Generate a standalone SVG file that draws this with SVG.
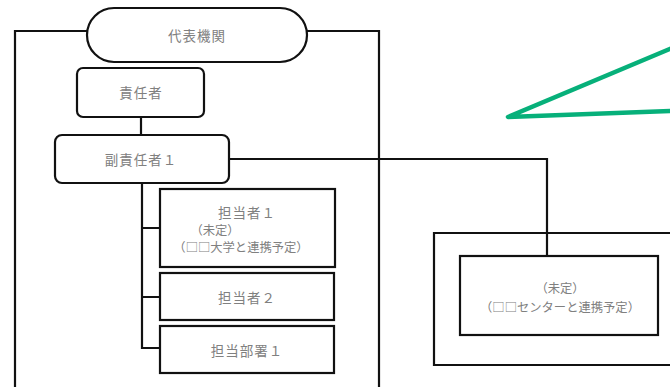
<svg xmlns="http://www.w3.org/2000/svg" width="670" height="387" viewBox="0 0 670 387">
<style>
.b{fill:#fff;stroke:#111;stroke-width:2.2}
.l{fill:none;stroke:#111;stroke-width:2.2}
.t{font-family:"Noto Sans CJK JP","Noto Sans CJK SC",sans-serif;fill:#808080;text-anchor:middle;dominant-baseline:central}
.m{font-size:13.5px;letter-spacing:1px}
.s{font-size:12.3px}
</style>
<rect width="670" height="387" fill="#fff"/>
<g id="frame-left"><path class="l" d="M87 31 H15 V387 M307 31 H379 V387"/></g>
<g id="frame-right"><path class="l" d="M670 233 H434 V365 H670"/></g>
<g id="connectors">
<path class="l" d="M141 117 V135"/>
<path class="l" d="M229 159 H547 V256"/>
<path class="l" d="M142 183 V348 H160 M142 228 H160 M142 297 H160"/>
</g>
<g id="daihyo"><rect class="b" x="87" y="8" width="220" height="54" rx="27"/><text class="t m" x="197" y="35">代表機関</text></g>
<g id="sekinin"><rect class="b" x="77" y="68" width="127" height="49" rx="6"/><text class="t m" x="141" y="92">責任者</text></g>
<g id="fuku"><rect class="b" x="55" y="135" width="174" height="48" rx="7"/><text class="t m" x="141" y="159">副責任者１</text></g>
<g id="tanto1"><rect class="b" x="160" y="189" width="175" height="78"/><text class="t m" x="247" y="212">担当者１</text><text class="t s" x="215" y="230">（未定）</text><text class="t s" x="241" y="247">（□□大学と連携予定）</text></g>
<g id="tanto2"><rect class="b" x="160" y="273" width="174" height="47"/><text class="t m" x="247" y="297">担当者２</text></g>
<g id="busho1"><rect class="b" x="160" y="326" width="174" height="47"/><text class="t m" x="247" y="350">担当部署１</text></g>
<g id="center"><rect class="b" x="460" y="256" width="198" height="79"/><text class="t s" x="560" y="288">（未定）</text><text class="t s" x="560" y="307">（□□センターと連携予定）</text></g>
<g id="callout"><path d="M672 48 L508 117 L672 111" fill="none" stroke="#07b07a" stroke-width="4.5" stroke-linejoin="round" stroke-linecap="round"/></g>
</svg>
